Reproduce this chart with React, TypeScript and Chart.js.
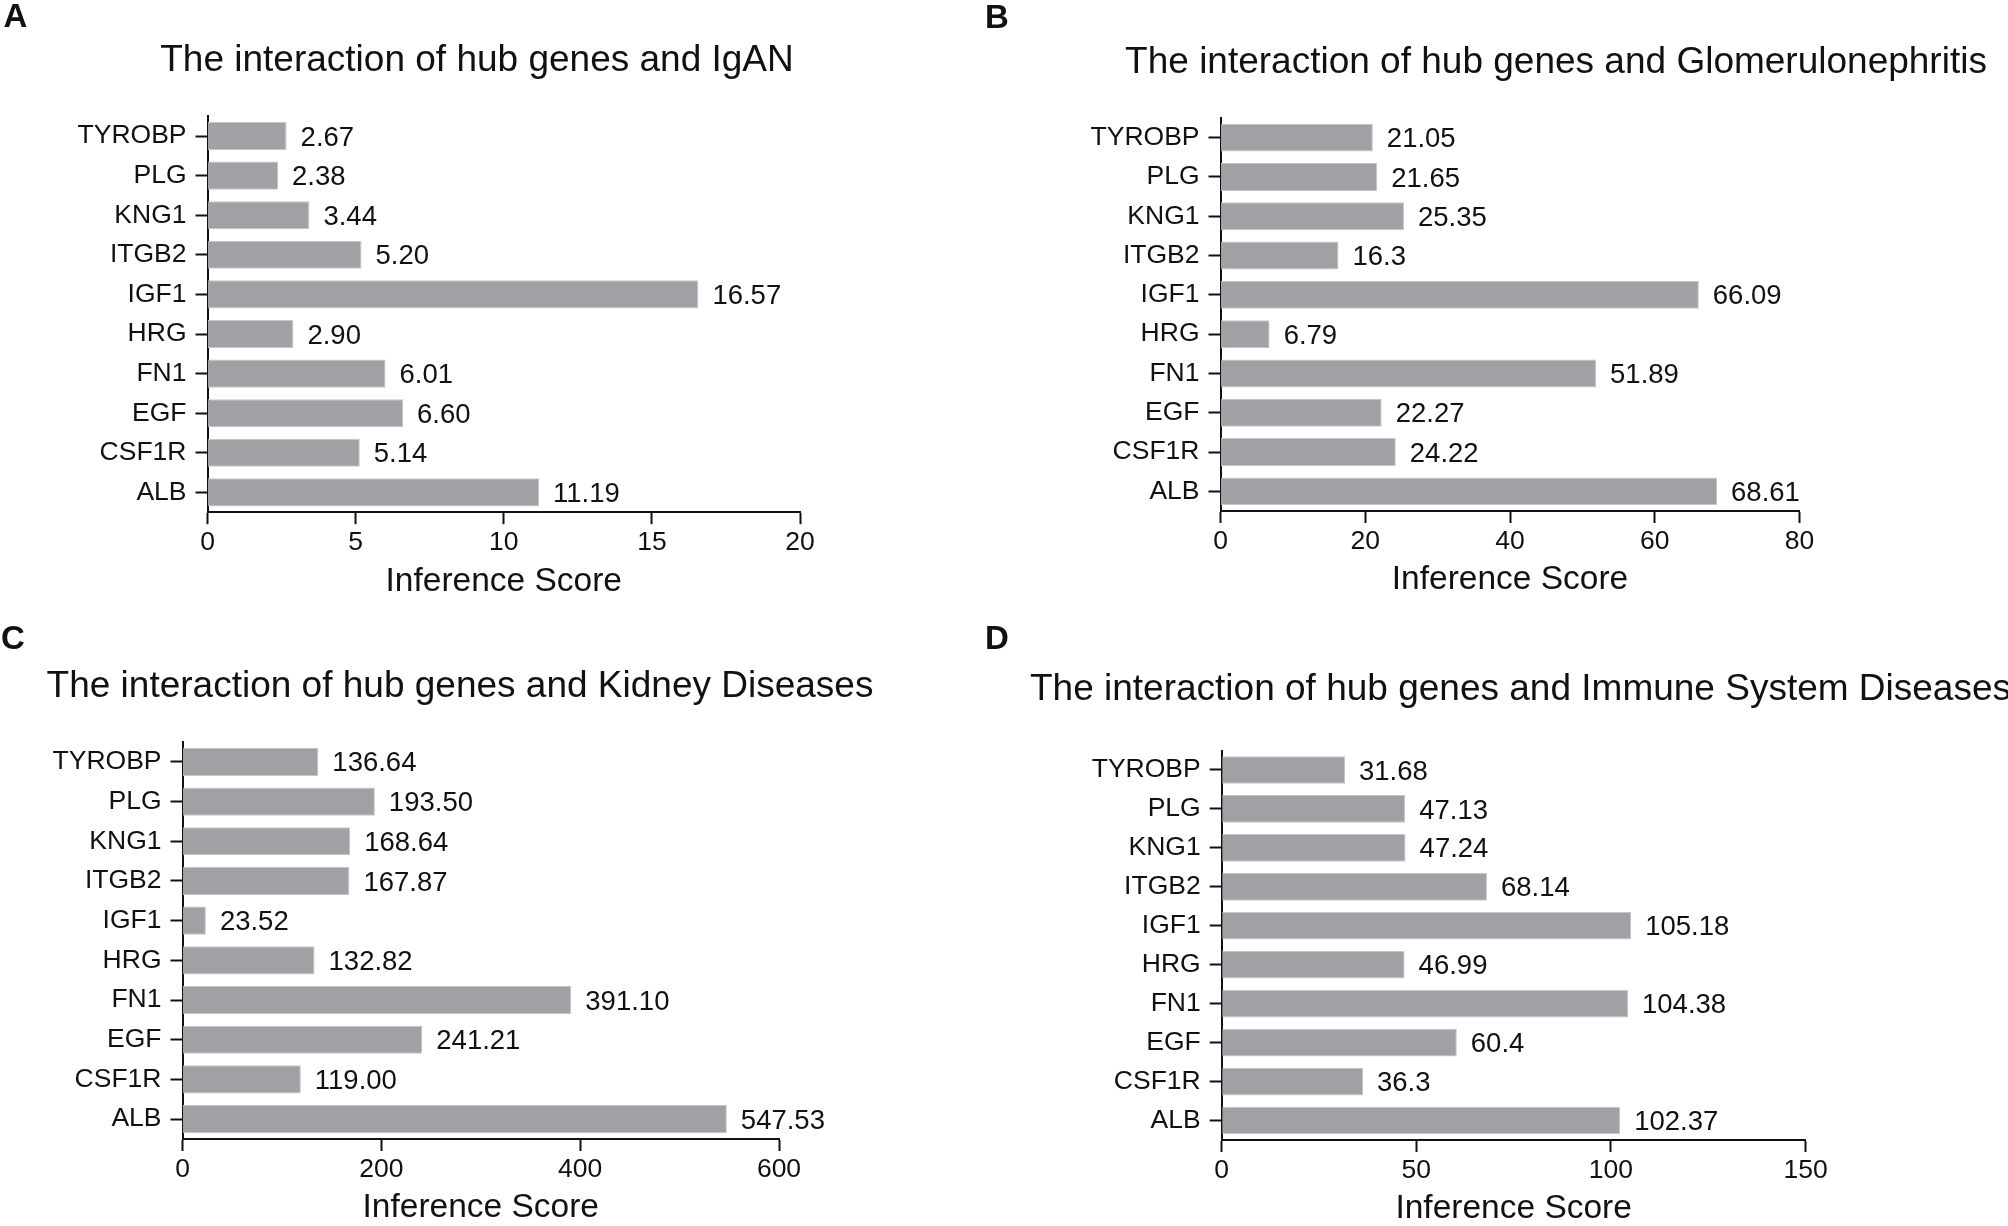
import React, { useEffect, useRef } from 'react';
import { Chart, registerables } from 'chart.js';

Chart.register(...registerables);

const FONT = '"Liberation Sans", Arial, Helvetica, sans-serif';

// ---------------- data ----------------
const genes = ['TYROBP', 'PLG', 'KNG1', 'ITGB2', 'IGF1', 'HRG', 'FN1', 'EGF', 'CSF1R', 'ALB'];

const iganValues = [2.67, 2.38, 3.44, 5.2, 16.57, 2.9, 6.01, 6.6, 5.14, 11.19];
const iganText = ['2.67', '2.38', '3.44', '5.20', '16.57', '2.90', '6.01', '6.60', '5.14', '11.19'];
const iganTicks = [0, 5, 10, 15, 20];

const glomValues = [21.05, 21.65, 25.35, 16.3, 66.09, 6.79, 51.89, 22.27, 24.22, 68.61];
const glomText = ['21.05', '21.65', '25.35', '16.3', '66.09', '6.79', '51.89', '22.27', '24.22', '68.61'];
const glomTicks = [0, 20, 40, 60, 80];

const kidneyValues = [136.64, 193.5, 168.64, 167.87, 23.52, 132.82, 391.1, 241.21, 119.0, 547.53];
const kidneyText = ['136.64', '193.50', '168.64', '167.87', '23.52', '132.82', '391.10', '241.21', '119.00', '547.53'];
const kidneyTicks = [0, 200, 400, 600];

const immuneValues = [31.68, 47.13, 47.24, 68.14, 105.18, 46.99, 104.38, 60.4, 36.3, 102.37];
const immuneText = ['31.68', '47.13', '47.24', '68.14', '105.18', '46.99', '104.38', '60.4', '36.3', '102.37'];
const immuneTicks = [0, 50, 100, 150];

const axisTitle = 'Inference Score';

// ---------------- layout ----------------
type Cfg = {
  letter: string;
  title: string;
  values: number[];
  texts: string[];
  ticks: number[];
  box: { x: number; y: number; w: number; h: number };
  area: { l: number; r: number; t: number; b: number };
  titlePos: { x: number; y: number; align: CanvasTextAlign };
  letterPos: { x: number; y: number };
};

const panels: Cfg[] = [
  {
    letter: 'A',
    title: 'The interaction of hub genes and IgAN',
    values: iganValues,
    texts: iganText,
    ticks: iganTicks,
    box: { x: 0, y: 0, w: 980, h: 613 },
    area: { l: 207.5, r: 800, t: 116.2, b: 512.2 },
    titlePos: { x: 477, y: 61, align: 'center' },
    letterPos: { x: 15.5, y: 18 },
  },
  {
    letter: 'B',
    title: 'The interaction of hub genes and Glomerulonephritis',
    values: glomValues,
    texts: glomText,
    ticks: glomTicks,
    box: { x: 980, y: 0, w: 1028, h: 613 },
    area: { l: 1220.5, r: 1799.5, t: 118, b: 511 },
    titlePos: { x: 1556, y: 63, align: 'center' },
    letterPos: { x: 997, y: 19 },
  },
  {
    letter: 'C',
    title: 'The interaction of hub genes and Kidney Diseases',
    values: kidneyValues,
    texts: kidneyText,
    ticks: kidneyTicks,
    box: { x: 0, y: 613, w: 980, h: 613 },
    area: { l: 182.5, r: 779, t: 742, b: 1139 },
    titlePos: { x: 460, y: 687, align: 'center' },
    letterPos: { x: 13, y: 640 },
  },
  {
    letter: 'D',
    title: 'The interaction of hub genes and Immune System Diseases',
    values: immuneValues,
    texts: immuneText,
    ticks: immuneTicks,
    box: { x: 980, y: 613, w: 1028, h: 613 },
    area: { l: 1221.7, r: 1805.6, t: 750.5, b: 1140 },
    titlePos: { x: 1030, y: 690, align: 'left' },
    letterPos: { x: 997, y: 640 },
  },
];

const Y_WIDTH = 150;
const X_HEIGHT = 86;

const panelTextPlugin = {
  id: 'panelText',
  afterDatasetsDraw(chart: any, _args: any, opts: any) {
    const ctx = chart.ctx as CanvasRenderingContext2D;
    const meta = chart.getDatasetMeta(0);
    ctx.save();
    ctx.font = `27.5px ${FONT}`;
    ctx.fillStyle = '#111';
    ctx.textAlign = 'left';
    ctx.textBaseline = 'middle';
    meta.data.forEach((bar: any, i: number) => {
      ctx.fillText(opts.texts[i], bar.x + 14, bar.y + 2);
    });
    ctx.restore();
  },
  afterDraw(chart: any, _args: any, opts: any) {
    const ctx = chart.ctx as CanvasRenderingContext2D;
    ctx.save();
    ctx.fillStyle = '#111';
    ctx.textBaseline = 'middle';
    ctx.font = `37px ${FONT}`;
    ctx.textAlign = opts.titleAlign;
    ctx.fillText(opts.title, opts.titleX, opts.titleY);
    ctx.font = `bold 33px ${FONT}`;
    ctx.textAlign = 'center';
    ctx.fillText(opts.letter, opts.letterX, opts.letterY);
    ctx.restore();
  },
};

function Panel({ cfg }: { cfg: Cfg }) {
  const ref = useRef<HTMLCanvasElement>(null);

  useEffect(() => {
    const { box, area } = cfg;
    const step = cfg.ticks[1] - cfg.ticks[0];
    const chart = new Chart(ref.current as HTMLCanvasElement, {
      type: 'bar',
      data: {
        labels: genes,
        datasets: [
          {
            data: cfg.values,
            backgroundColor: '#a1a1a5',
            borderColor: '#c6c6c8',
            borderWidth: 1,
            barPercentage: 0.71,
            categoryPercentage: 1,
          },
        ],
      },
      options: {
        indexAxis: 'y',
        responsive: false,
        animation: false,
        devicePixelRatio: 1,
        events: [],
        layout: {
          padding: {
            left: area.l - box.x - Y_WIDTH,
            right: box.x + box.w - area.r,
            top: area.t - box.y,
            bottom: box.y + box.h - area.b - X_HEIGHT,
          },
        },
        plugins: {
          legend: { display: false },
          tooltip: { enabled: false },
          title: { display: false },
          panelText: {
            texts: cfg.texts,
            title: cfg.title,
            titleX: cfg.titlePos.x - box.x,
            titleY: cfg.titlePos.y - box.y,
            titleAlign: cfg.titlePos.align,
            letter: cfg.letter,
            letterX: cfg.letterPos.x - box.x,
            letterY: cfg.letterPos.y - box.y,
          },
        } as any,
        scales: {
          y: {
            type: 'category',
            offset: true,
            afterFit: (s: any) => {
              s.width = Y_WIDTH;
            },
            border: { display: true, color: '#111', width: 2 },
            grid: {
              display: true,
              drawOnChartArea: false,
              drawTicks: true,
              tickLength: 12,
              tickWidth: 2,
              tickColor: '#111',
              offset: false,
            },
            ticks: {
              color: '#111',
              font: { family: FONT, size: 26.5 },
              padding: 9,
              autoSkip: false,
            },
          },
          x: {
            type: 'linear',
            min: cfg.ticks[0],
            max: cfg.ticks[cfg.ticks.length - 1],
            afterFit: (s: any) => {
              s.height = X_HEIGHT;
            },
            border: { display: true, color: '#111', width: 2 },
            grid: {
              display: true,
              drawOnChartArea: false,
              drawTicks: true,
              tickLength: 12,
              tickWidth: 2,
              tickColor: '#111',
            },
            ticks: {
              stepSize: step,
              color: '#111',
              font: { family: FONT, size: 26.5 },
              padding: 3,
              autoSkip: false,
              maxRotation: 0,
            },
            title: {
              display: true,
              text: axisTitle,
              color: '#111',
              font: { family: FONT, size: 33.5, lineHeight: 1 },
              padding: { top: 0, bottom: 0 },
            },
          },
        },
      } as any,
      plugins: [panelTextPlugin as any],
    });
    return () => chart.destroy();
  }, [cfg]);

  return (
    <canvas
      ref={ref}
      width={cfg.box.w}
      height={cfg.box.h}
      style={{
        position: 'absolute',
        left: cfg.box.x,
        top: cfg.box.y,
        width: cfg.box.w,
        height: cfg.box.h,
      }}
    />
  );
}

export default function App() {
  return (
    <div
      style={{
        position: 'fixed',
        left: 0,
        top: 0,
        width: 2008,
        height: 1226,
        background: '#ffffff',
        overflow: 'hidden',
      }}
    >
      {panels.map((p) => (
        <Panel key={p.letter} cfg={p} />
      ))}
    </div>
  );
}
